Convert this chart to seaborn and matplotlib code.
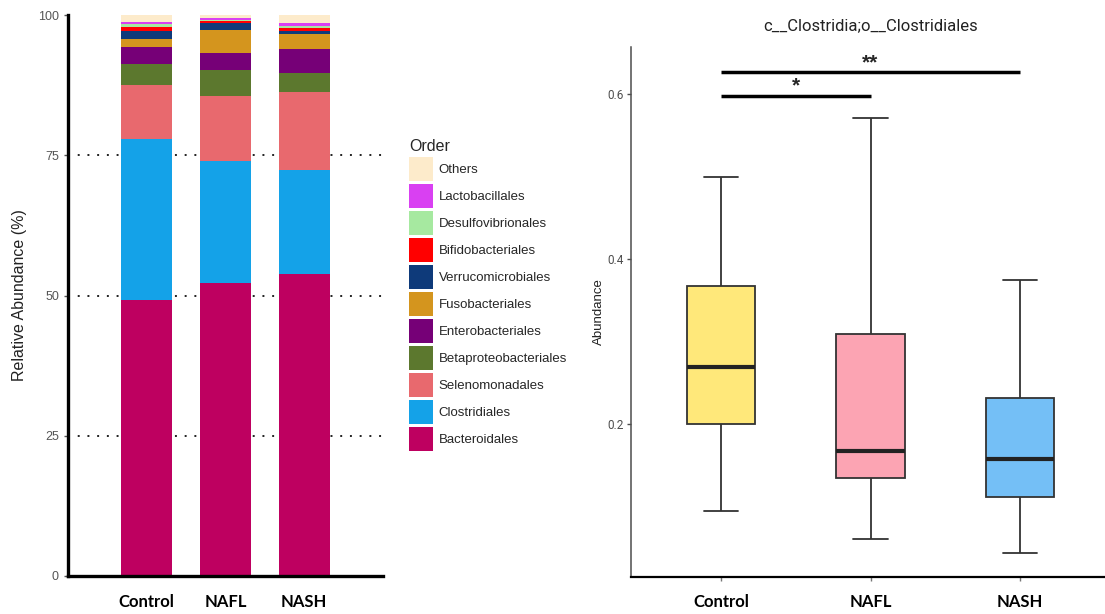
import numpy as np
import pandas as pd
import matplotlib
matplotlib.use('Agg')
import matplotlib.pyplot as plt
from matplotlib.patches import Patch
import seaborn as sns

groups = ['Control', 'NAFL', 'NASH']

# relative abundance (%), stacked bottom -> top
orders = ['Bacteroidales', 'Clostridiales', 'Selenomonadales', 'Betaproteobacteriales',
          'Enterobacteriales', 'Fusobacteriales', 'Verrucomicrobiales', 'Bifidobacteriales',
          'Desulfovibrionales', 'Lactobacillales', 'Others']
control_pct = [49.2, 28.7, 9.6, 3.8, 3.0, 1.4, 1.4, 0.8, 0.5, 0.35, 1.25]
nafl_pct = [52.2, 21.8, 11.6, 4.6, 3.1, 4.1, 1.2, 0.3, 0.2, 0.3, 0.6]
nash_pct = [53.8, 18.6, 13.8, 3.5, 4.2, 2.8, 0.5, 0.5, 0.3, 0.6, 1.4]
order_colors = ['#BE0060', '#14A2E8', '#E8696E', '#5C782E', '#760077', '#D4951E',
                '#0E3A7A', '#FF0000', '#A6E9A0', '#D940F2', '#FDEBCB']

# Clostridiales abundance: min, Q1, median, Q3, max
control_box = [0.095, 0.200, 0.269, 0.367, 0.500]
nafl_box = [0.061, 0.1345, 0.167, 0.309, 0.571]
nash_box = [0.044, 0.111, 0.158, 0.231, 0.375]
box_colors = ['#FFE87A', '#FCA4B3', '#74BFF6']

sns.set_style('ticks')
plt.rcParams['font.family'] = ['Liberation Sans', 'DejaVu Sans']
narrow = ['Roboto', 'DejaVu Sans']
bold_font = ['Lato', 'DejaVu Sans']

fig = plt.figure(figsize=(11.05, 6.14), dpi=100)

# ---------- left: stacked bars ----------
ax1 = fig.add_axes([68/1105, 38/614, 315/1105, 561/614])
pct = pd.DataFrame({'Control': control_pct, 'NAFL': nafl_pct, 'NASH': nash_pct}, index=orders)
cum = pct.cumsum()
for i in range(len(orders) - 1, -1, -1):
    sns.barplot(x=groups, y=cum.iloc[i].values, color=order_colors[i], width=0.65,
                saturation=1, linewidth=0, ax=ax1, zorder=2)
for yv in [25, 50, 75]:
    ax1.axhline(yv, color='#222222', linestyle=(0, (1, 4)), linewidth=1.4, zorder=0)
ax1.set_xlim(-1, 3)
ax1.set_ylim(0, 100)
ax1.set_yticks([0, 25, 50, 75, 100])
ax1.tick_params(axis='y', colors='#555555', labelsize=9, length=3, width=1)
ax1.tick_params(axis='x', length=0, pad=13)
for lab in ax1.get_xticklabels():
    lab.set_fontfamily(bold_font)
    lab.set_fontweight('bold')
    lab.set_fontsize(12)
    lab.set_color('black')
ax1.set_ylabel('Relative Abundance (%)', fontsize=11.5, color='#222222', labelpad=8)
ax1.set_xlabel('')
sns.despine(ax=ax1)
for side in ['left', 'bottom']:
    ax1.spines[side].set_linewidth(2.4)
    ax1.spines[side].set_color('black')

handles = [Patch(facecolor=c, edgecolor='none') for c in order_colors[::-1]]
fig.legend(handles, orders[::-1], loc='upper left', bbox_to_anchor=(409/1105, 1 - 139/614),
           frameon=False, title='Order', alignment='left', fontsize=9.5, title_fontsize=11.5,
           handlelength=1.85, handleheight=2.42, labelspacing=0.23, handletextpad=0.4,
           borderpad=0, borderaxespad=0)

# ---------- right: boxplot ----------
ax2 = fig.add_axes([631/1105, 37/614, 479/1105, 530/614])
box_df = pd.DataFrame({
    'group': np.repeat(groups, 5),
    'value': control_box + nafl_box + nash_box,
})
sns.boxplot(data=box_df, x='group', y='value', hue='group', palette=box_colors,
            saturation=1, width=0.456, whis=(0, 100), linecolor='#333333', linewidth=1.3,
            medianprops={'linewidth': 3, 'color': '#222222'}, legend=False, ax=ax2)
ax2.set_xlim(-0.6, 2.6)
ax2.set_ylim(0.0145, 0.657)
ax2.set_yticks([0.2, 0.4, 0.6])
ax2.set_yticklabels(['0.2', '0.4', '0.6'], fontfamily=narrow)
ax2.tick_params(axis='y', colors='#4D4D4D', labelsize=8.5, length=3, width=1, pad=2)
ax2.tick_params(axis='x', colors='#777777', length=3, width=1, pad=9)
for lab in ax2.get_xticklabels():
    lab.set_fontfamily(bold_font)
    lab.set_fontweight('bold')
    lab.set_fontsize(12)
    lab.set_color('black')
ax2.set_xlabel('')
ax2.set_ylabel('Abundance', fontsize=9.5, color='#222222', labelpad=2)
ax2.set_title('c__Clostridia;o__Clostridiales', fontsize=12, color='#222222', pad=12,
              fontfamily=narrow)
sns.despine(ax=ax2)
ax2.spines['left'].set_color('#4D4D4D')
ax2.spines['left'].set_linewidth(1.1)
ax2.spines['bottom'].set_color('black')
ax2.spines['bottom'].set_linewidth(1.6)

# significance brackets
ax2.plot([0, 1], [0.598, 0.598], color='black', linewidth=2.5, solid_capstyle='butt')
ax2.plot([0, 2], [0.627, 0.627], color='black', linewidth=2.5, solid_capstyle='butt')
ax2.text(0.5, 0.598, '*', ha='center', va='bottom', fontsize=15, fontweight='bold')
ax2.text(1.0, 0.626, '**', ha='center', va='bottom', fontsize=15, fontweight='bold')

fig.savefig('out.png', dpi=100)
